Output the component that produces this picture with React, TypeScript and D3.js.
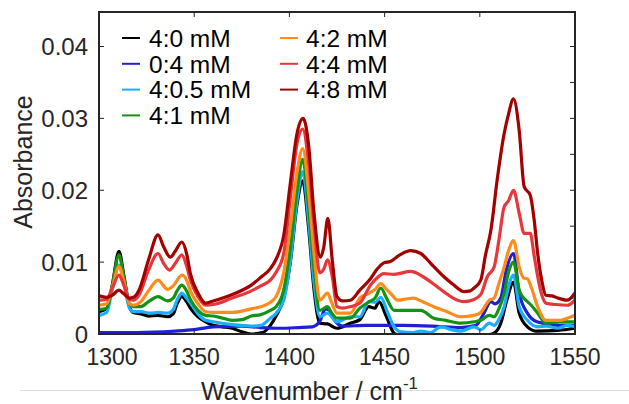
import React from "react";
import * as d3 from "d3";

// ---------- DATA ----------
const seriesNames = ["4:0 mM", "0:4 mM", "4:0.5 mM", "4:1 mM", "4:2 mM", "4:4 mM", "4:8 mM"];
const seriesColors = ["#000000", "#1f1fd6", "#1aaeff", "#139313", "#ff8c1a", "#e8373a", "#a30000"];

const xTicks = [1300, 1350, 1400, 1450, 1500, 1550];
const yTicks = [0, 0.01, 0.02, 0.03, 0.04];
const yTickLabels = ["0", "0.01", "0.02", "0.03", "0.04"];
const yMinorTicks = [0, 0.005, 0.01, 0.015, 0.02, 0.025, 0.03, 0.035, 0.04];

const wnBlack = [1300, 1304, 1307, 1310.5, 1313, 1316, 1318, 1322, 1326, 1331, 1336, 1339, 1341, 1343.5, 1346, 1348, 1352, 1356, 1360, 1365, 1370, 1375, 1380, 1386, 1390, 1393, 1397, 1400.5, 1404, 1407, 1410, 1413, 1416, 1420, 1425, 1432, 1437, 1441.7, 1445, 1447, 1451, 1455, 1458, 1465, 1475, 1485, 1495, 1505, 1508, 1511, 1514, 1517.7, 1520.7, 1525, 1530, 1541, 1550];
const absBlack = [0.0031, 0.0035, 0.0068, 0.0115, 0.0082, 0.0038, 0.003, 0.0028, 0.0025, 0.0026, 0.0024, 0.0028, 0.0042, 0.0052, 0.0045, 0.0036, 0.0024, 0.0017, 0.0012, 0.001, 0.0008, 0.0003, 0.0, 0.0002, 0.0012, 0.0025, 0.005, 0.01, 0.018, 0.0213, 0.015, 0.006, 0.0015, 0.0014, 0.0008, 0.0015, 0.002, 0.0038, 0.0036, 0.0045, 0.0024, 0.0001, -0.0002, -0.0003, -0.0003, -0.0002, -0.0002, -0.0001, 0.0002, 0.0015, 0.0045, 0.0072, 0.0029, 0.001, 0.0004, 0.0005, 0.0008];

const wnBlue = [1300, 1320, 1340, 1350, 1360, 1375, 1385, 1395, 1405, 1412, 1416, 1419, 1421, 1424, 1428, 1440, 1460, 1475, 1490, 1498, 1502, 1505.8, 1508, 1511, 1514, 1517.7, 1520.7, 1525, 1530, 1541, 1550];
const absBlue = [0.0002, 0.0002, 0.0004, 0.0006, 0.001, 0.0011, 0.0009, 0.0008, 0.0009, 0.001, 0.0018, 0.0035, 0.0033, 0.0018, 0.0011, 0.0012, 0.0012, 0.0011, 0.0009, 0.0012, 0.0028, 0.0045, 0.0042, 0.005, 0.009, 0.0112, 0.0057, 0.0029, 0.0017, 0.0012, 0.0012];

const wnLightBlue = [1300, 1304, 1307, 1310.5, 1313, 1316, 1318, 1322, 1327, 1331, 1336, 1339, 1341, 1343.5, 1346, 1348, 1352, 1356, 1360, 1370, 1380, 1385, 1390, 1393, 1397, 1400.5, 1404, 1407, 1410, 1413, 1416, 1420, 1425, 1432, 1437, 1441.7, 1445, 1448, 1451.4, 1455, 1458.6, 1465, 1469, 1474, 1479.5, 1485, 1490, 1497, 1500.5, 1505, 1507.5, 1510, 1512.8, 1515, 1517.7, 1520.7, 1525, 1530.4, 1535, 1541, 1546, 1550];
const absLightBlue = [0.0026, 0.003, 0.0062, 0.0096, 0.0072, 0.0036, 0.0031, 0.0031, 0.0029, 0.003, 0.0029, 0.0034, 0.0047, 0.0057, 0.005, 0.0043, 0.0028, 0.0019, 0.0017, 0.0013, 0.0011, 0.0012, 0.0022, 0.0029, 0.0047, 0.0102, 0.0185, 0.0226, 0.016, 0.007, 0.0024, 0.0029, 0.0017, 0.0024, 0.0024, 0.0045, 0.0044, 0.0051, 0.0031, 0.001, 0.0003, 0.0002, 0.0004, 0.0002, 0.001, 0.0006, 0.0004, 0.001, 0.0006, 0.0015, 0.0012, 0.002, 0.0038, 0.0065, 0.0082, 0.0038, 0.0019, 0.001, 0.0011, 0.0008, 0.0012, 0.001];

const wnGreen = [1300, 1304, 1307, 1310.5, 1313, 1316, 1318, 1322, 1326, 1331, 1336, 1339, 1341, 1343.5, 1346, 1348, 1352, 1356, 1360, 1365, 1370, 1375, 1380, 1385, 1390, 1393, 1397, 1400.5, 1404, 1407, 1410, 1413, 1416, 1420, 1422, 1425, 1432, 1437, 1442, 1445, 1448, 1451, 1455, 1460, 1469, 1475.8, 1482, 1490, 1497, 1500.5, 1505, 1507.5, 1510, 1512.8, 1515, 1517.7, 1520.7, 1523, 1525, 1527, 1530.4, 1534.7, 1542, 1550];
const absGreen = [0.0034, 0.0036, 0.0068, 0.011, 0.008, 0.0042, 0.0038, 0.0038, 0.0045, 0.0052, 0.0046, 0.005, 0.006, 0.0068, 0.006, 0.0048, 0.0033, 0.0026, 0.0025, 0.0022, 0.0019, 0.002, 0.0025, 0.0027, 0.0033, 0.0038, 0.0061, 0.012, 0.02, 0.0243, 0.018, 0.009, 0.0033, 0.0038, 0.003, 0.0022, 0.0022, 0.0036, 0.0045, 0.005, 0.0064, 0.005, 0.0033, 0.0033, 0.0033, 0.0022, 0.0019, 0.0015, 0.0017, 0.0019, 0.0026, 0.0024, 0.0035, 0.0057, 0.0085, 0.01, 0.0061, 0.005, 0.0045, 0.004, 0.0029, 0.0015, 0.0017, 0.0017];

const wnOrange = [1300, 1304, 1307, 1310.5, 1313, 1316, 1318, 1322, 1326, 1331, 1336, 1339, 1343.5, 1346, 1348, 1352, 1356, 1360, 1370, 1380, 1385, 1390, 1393, 1397, 1400.5, 1404, 1407, 1410, 1413, 1416, 1420, 1422, 1425, 1432, 1437, 1442, 1445, 1448, 1451, 1453, 1456.8, 1462, 1465, 1470, 1475.8, 1482, 1490, 1497, 1500.5, 1505, 1507.5, 1510, 1512.8, 1515, 1517.7, 1520.7, 1523, 1525, 1527, 1530.4, 1534.7, 1542, 1546, 1550];
const absOrange = [0.004, 0.0042, 0.0065, 0.0094, 0.0074, 0.0042, 0.004, 0.0045, 0.006, 0.0075, 0.0062, 0.0067, 0.0082, 0.0075, 0.006, 0.0042, 0.0031, 0.003, 0.003, 0.0035, 0.0038, 0.0044, 0.0052, 0.0085, 0.015, 0.0225, 0.0258, 0.02, 0.011, 0.0047, 0.0057, 0.0045, 0.0029, 0.0029, 0.005, 0.0057, 0.0062, 0.007, 0.0062, 0.0057, 0.0047, 0.0049, 0.005, 0.0045, 0.0038, 0.0032, 0.0024, 0.0026, 0.003, 0.0047, 0.005, 0.007, 0.0093, 0.0115, 0.013, 0.0093, 0.0078, 0.0077, 0.0065, 0.0038, 0.0019, 0.0019, 0.0022, 0.0026];

const wnRed = [1300, 1304, 1307, 1310.5, 1313, 1316, 1318, 1321, 1326, 1331, 1334, 1337, 1340, 1343.5, 1346, 1348, 1352, 1356, 1360, 1370, 1380, 1385, 1390, 1393, 1397, 1400.5, 1404, 1407, 1410, 1413, 1416, 1418, 1420, 1422.5, 1425, 1428, 1432, 1437, 1442.6, 1446, 1449.6, 1455, 1463.7, 1470, 1475, 1481, 1486, 1491.6, 1497, 1500.5, 1504, 1507.5, 1510, 1512.8, 1515, 1517.7, 1520.7, 1523.3, 1526.5, 1528.5, 1530.4, 1532.5, 1534.7, 1540, 1546, 1550];
const absRed = [0.0047, 0.0048, 0.0064, 0.0082, 0.0068, 0.0048, 0.0047, 0.0054, 0.0089, 0.0112, 0.0098, 0.0089, 0.0098, 0.011, 0.0095, 0.0075, 0.0052, 0.004, 0.0041, 0.005, 0.006, 0.0067, 0.0075, 0.0086, 0.0112, 0.019, 0.0265, 0.0285, 0.024, 0.015, 0.0085, 0.009, 0.0103, 0.008, 0.0038, 0.0036, 0.0038, 0.0043, 0.0068, 0.0078, 0.0084, 0.0083, 0.0087, 0.008, 0.0071, 0.0059, 0.005, 0.0045, 0.0048, 0.0055, 0.008, 0.0093, 0.013, 0.0177, 0.0185, 0.02, 0.0168, 0.014, 0.014, 0.011, 0.008, 0.0055, 0.0043, 0.0041, 0.004, 0.0047];

const wnDarkRed = [1300, 1304, 1307, 1310.5, 1313, 1316, 1318, 1321, 1326, 1331, 1334, 1337.4, 1340, 1343.5, 1346, 1348, 1352, 1356, 1360, 1370, 1380, 1385, 1390, 1393, 1397, 1400.5, 1404, 1407.2, 1410.2, 1412.8, 1416.3, 1418, 1420.2, 1422.5, 1425, 1428, 1432, 1437, 1442.6, 1446, 1449.6, 1453, 1458, 1463.7, 1469, 1475, 1481, 1486, 1491.6, 1495, 1497, 1500.5, 1503, 1505.8, 1509.3, 1512.8, 1515, 1517.7, 1520.7, 1523.3, 1526.5, 1528.5, 1530.4, 1532.5, 1534.7, 1538, 1541, 1546, 1550];
const absDarkRed = [0.0053, 0.0051, 0.0054, 0.0061, 0.0056, 0.005, 0.0051, 0.0061, 0.0103, 0.0138, 0.0121, 0.0107, 0.0115, 0.0128, 0.0112, 0.0084, 0.0057, 0.0043, 0.0046, 0.0055, 0.0068, 0.0079, 0.0091, 0.0104, 0.0137, 0.021, 0.0279, 0.03, 0.026, 0.0172, 0.0107, 0.012, 0.0161, 0.0103, 0.0052, 0.0046, 0.0047, 0.0061, 0.0077, 0.009, 0.0099, 0.0101, 0.011, 0.0116, 0.0112, 0.0096, 0.008, 0.0069, 0.0059, 0.006, 0.0064, 0.0075, 0.011, 0.0144, 0.0218, 0.0279, 0.0305, 0.0327, 0.0283, 0.0205, 0.0193, 0.016, 0.0112, 0.0075, 0.0054, 0.0053, 0.005, 0.0047, 0.0057];

const seriesX = [wnBlack, wnBlue, wnLightBlue, wnGreen, wnOrange, wnRed, wnDarkRed];
const seriesY = [absBlack, absBlue, absLightBlue, absGreen, absOrange, absRed, absDarkRed];

// ---------- LAYOUT ----------
const W = 629;
const H = 404;
const left = 99;
const right = 575;
const top = 12;
const bottom = 334;
const FONT = "'Liberation Sans', Arial, Helvetica, sans-serif";
const AX = "#262626";

export default function App() {
  const x = d3.scaleLinear().domain([1300, 1550]).range([left, right]);
  const y = d3.scaleLinear().domain([0, 0.0448]).range([bottom, top]);
  const line = d3
    .line<[number, number]>()
    .x((d) => x(d[0]))
    .y((d) => y(d[1]))
    .curve(d3.curveMonotoneX);

  const legendCols = [
    { lineX: 122, textX: 149 },
    { lineX: 280, textX: 306 },
  ];

  return (
    <svg
      width={W}
      height={H}
      style={{ position: "fixed", left: 0, top: 0, background: "#fff" }}
      fontFamily={FONT}
    >
      <defs>
        <clipPath id="plotclip">
          <rect x={left} y={top} width={right - left} height={bottom - top} />
        </clipPath>
      </defs>
      <rect x={0} y={0} width={W} height={H} fill="#fff" />
      <line x1={20} x2={W} y1={390.5} y2={390.5} stroke="#dcdcdc" strokeWidth={1} />

      <g clipPath="url(#plotclip)">
        {seriesX.map((xs, i) => (
          <path
            key={i}
            d={line(xs.map((v, j) => [v, seriesY[i][j]] as [number, number])) || ""}
            fill="none"
            stroke={seriesColors[i]}
            strokeWidth={3.2}
            strokeLinejoin="round"
            strokeLinecap="round"
          />
        ))}
      </g>

      {/* axes box */}
      <rect x={left} y={top} width={right - left} height={bottom - top} fill="none" stroke={AX} strokeWidth={2} />

      {/* x ticks */}
      {xTicks.map((t, i) => (
        <g key={"x" + t}>
          <line x1={x(t)} x2={x(t)} y1={bottom} y2={bottom - 5} stroke={AX} strokeWidth={1} />
          <line x1={x(t)} x2={x(t)} y1={top} y2={top + 5} stroke={AX} strokeWidth={1} />
          <text x={x(t) + (i === 0 ? 13 : 0)} y={365} fontSize={23} textAnchor="middle" fill="#262626">
            {t}
          </text>
        </g>
      ))}

      {/* y ticks */}
      {yTicks.map((t, i) => (
        <g key={"y" + t}>
          <line x1={left} x2={left + 5} y1={y(t)} y2={y(t)} stroke={AX} strokeWidth={1} />
          <text x={88} y={y(t)} dy="0.36em" fontSize={24} textAnchor="end" fill="#262626">
            {yTickLabels[i]}
          </text>
        </g>
      ))}
      {yMinorTicks.map((t) => (
        <line key={"ym" + t} x1={right} x2={right - 5} y1={y(t)} y2={y(t)} stroke={AX} strokeWidth={1} />
      ))}

      {/* axis labels */}
      <text transform={`translate(32, 162) rotate(-90)`} fontSize={25} textAnchor="middle" fill="#262626">
        Absorbance
      </text>
      <text x={201} y={400} fontSize={25} textAnchor="start" fill="#262626">
        Wavenumber / cm<tspan dy={-11} fontSize={17}>-1</tspan>
      </text>

      {/* legend */}
      {seriesNames.map((name, i) => {
        const col = i < 4 ? 0 : 1;
        const row = i < 4 ? i : i - 4;
        const cy = 38 + row * 25.8;
        const c = legendCols[col];
        return (
          <g key={"lg" + i}>
            <line x1={c.lineX} x2={c.lineX + 18} y1={cy} y2={cy} stroke={seriesColors[i]} strokeWidth={2} />
            <text x={c.textX} y={cy} dy="0.36em" fontSize={24.5} fill="#000">
              {name}
            </text>
          </g>
        );
      })}
    </svg>
  );
}
